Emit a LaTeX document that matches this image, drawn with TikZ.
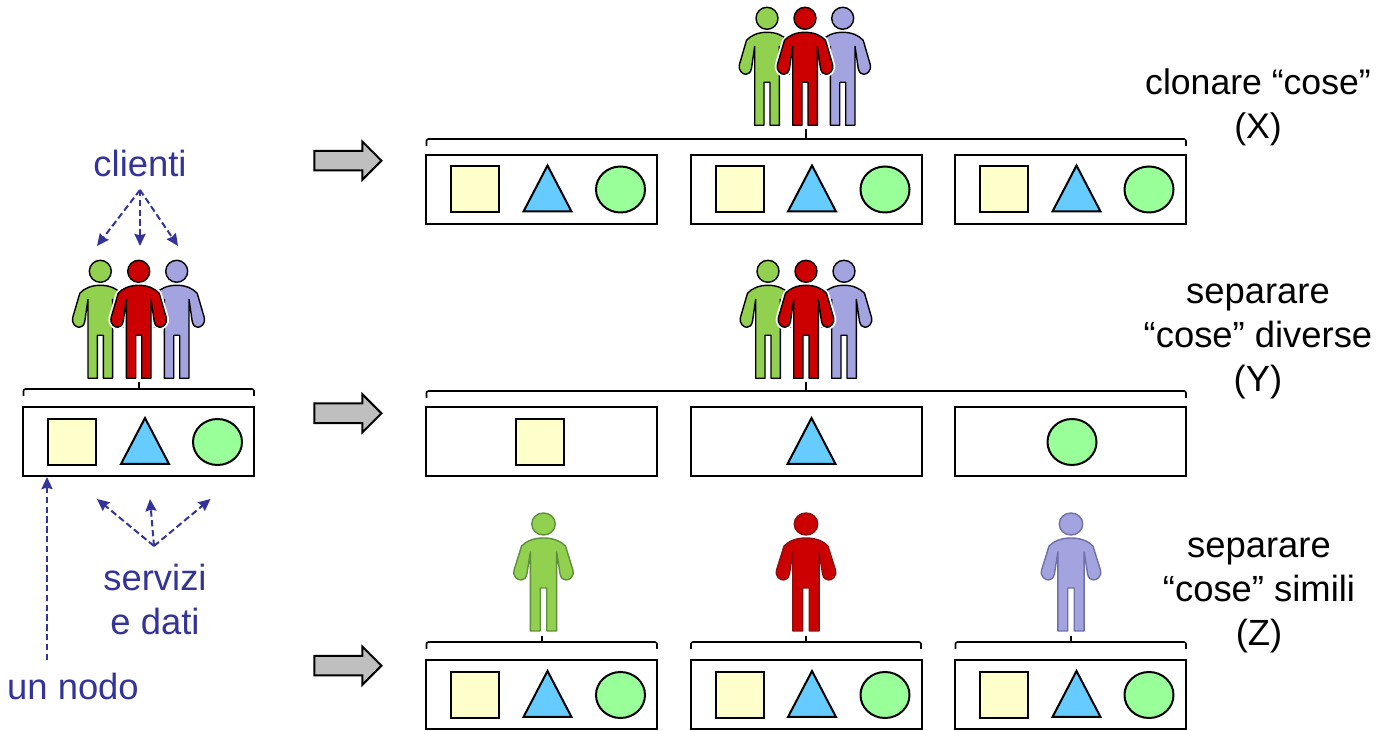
\documentclass[tikz,border=0pt]{standalone}
\usepackage{fontspec}
\setmainfont{Liberation Sans}
\usepackage{xcolor}
\usepackage{tikz}
\usetikzlibrary{shapes.geometric,shapes.arrows,arrows.meta}
\definecolor{personGreen}{HTML}{92D050}
\definecolor{personRed}{HTML}{CC0000}
\definecolor{personBlue}{HTML}{A3A3DF}
\definecolor{squareFill}{HTML}{FFFFCC}
\definecolor{triangleFill}{HTML}{66CCFF}
\definecolor{circleFill}{HTML}{99FF99}
\definecolor{labelBlue}{HTML}{333399}
\definecolor{softGreen}{HTML}{5F8F3A}
\definecolor{softRed}{HTML}{8A1010}
\definecolor{softBlue}{HTML}{7070A8}
\tikzset{nodebox/.style={draw,line width=1pt,minimum width=115.5pt,minimum height=34.5pt,inner sep=0pt}}
\tikzset{sq/.style={draw,line width=1pt,fill=squareFill,minimum width=24pt,minimum height=23pt,inner sep=0pt}}
\tikzset{tri/.style={draw,line width=1pt,fill=triangleFill,isosceles triangle,isosceles triangle stretches,shape border rotate=90,minimum width=24pt,minimum height=23pt,inner sep=0pt,anchor=lower side}}
\tikzset{ell/.style={draw,line width=1pt,fill=circleFill,ellipse,minimum width=24.5pt,minimum height=23pt,inner sep=0pt}}
\tikzset{bigarrow/.style={draw,line width=1pt,fill=black!25,single arrow,minimum height=33.5pt,minimum width=18pt,single arrow head extend=4.6pt,single arrow head indent=0pt,inner xsep=0pt,inner ysep=4.4pt}}
\tikzset{clabel/.style={text=labelBlue,font=\fontsize{18.2}{22}\selectfont,align=center,inner sep=0pt}}
\tikzset{rlabel/.style={font=\fontsize{18.2}{22}\selectfont,align=center,inner sep=0pt}}
\tikzset{dasharrow/.style={->,labelBlue,line width=1pt,dash pattern=on 3.2pt off 1.7pt}}
\tikzset{bracket/.style={line width=0.8pt,rounded corners=1pt}}
\def\personpath{(0,14) .. controls (9,14) and (16,17) .. (20.5,22) -- (27.5,46)
    .. controls (29,53) and (24,56) .. (21,56) .. controls (18,56) and (16.5,54) .. (15.5,50)
    -- (12.3,28) -- (12.3,107) -- (3,107) -- (3,64) -- (-3,64) -- (-3,107) -- (-12.3,107) -- (-12.3,28)
    -- (-15.5,50) .. controls (-16.5,54) and (-18,56) .. (-21,56) .. controls (-24,56) and (-29,53) .. (-27.5,46)
    -- (-20.5,22) .. controls (-16,17) and (-9,14) .. (0,14) -- cycle}
\tikzset{pics/person/.style n args={2}{code={
    \draw[white,line width=2.5pt,line join=round] \personpath;
    \draw[draw=#2,fill=#1,line width=0.7pt,line join=round] \personpath;
    \draw[draw=#2,fill=#1,line width=0.7pt] (0,0) circle [radius=5.5pt];
}}}

\begin{document}
\begin{tikzpicture}[x=0.5pt,y=-0.5pt,>={Stealth[length=6pt,width=5.5pt,inset=0.6pt]}]
    \useasboundingbox (0,0) rectangle (1394,731);

    % left column
    \pic at (100.3,271.3) {person={personGreen}{black}};
    \pic at (176.7,271.3) {person={personBlue}{black}};
    \pic at (138.7,271.3) {person={personRed}{black}};
    \draw [bracket] (23.5,396) -- (23.5,389) -- (254,389) -- (254,396);
    \draw [line width=0.8pt] (139,389) -- (139,382);
    \node[nodebox] (left) at (138.7,442) {};
    \node[sq] (lefts) at (72.3,442) {};
    \node[tri] (leftt) at (145,465) {};
    \node[ell] (lefte) at (217.5,442) {};

    \node[clabel] (clienti) at (140,163) {clienti};
    \coordinate (clientiup) at (140,190);
    \coordinate (cl1) at (97,246);
    \coordinate (cl2) at (140,246);
    \coordinate (cl3) at (178,246);
    \draw [dasharrow] (clientiup) to (cl1);
    \draw [dasharrow] (clientiup) to (cl2);
    \draw [dasharrow] (clientiup) to (cl3);

    \node[clabel] (servizi) at (155,599) {servizi\\e dati};
    \coordinate (servup) at (154,546);
    \coordinate (sv1) at (97,499);
    \coordinate (sv2) at (150,499);
    \coordinate (sv3) at (210.5,499);
    \draw [dasharrow] (servup) to (sv1);
    \draw [dasharrow] (servup) to (sv2);
    \draw [dasharrow] (servup) to (sv3);

    \node[clabel] (unnodo) at (73,686) {un nodo};
    \coordinate (nodofoot) at (47,660);
    \coordinate (nodotip) at (47,477);
    \draw [dasharrow] (nodofoot) to (nodotip);

    % grey arrows
    \node[bigarrow] (arrx) at (343,160.7) {};
    \node[bigarrow] (arry) at (343,413.3) {};
    \node[bigarrow] (arrz) at (343,665.7) {};

    % row X
    \pic at (767,18.3) {person={personGreen}{black}};
    \pic at (842.7,18.3) {person={personBlue}{black}};
    \pic at (805,18.3) {person={personRed}{black}};
    \draw [bracket] (426.5,146) -- (426.5,139) -- (1186,139) -- (1186,146);
    \draw [line width=0.8pt] (806,139) -- (806,129);
    \node[nodebox] (x1) at (541.5,189.5) {};
    \node[nodebox] (x2) at (806,189.5) {};
    \node[nodebox] (x3) at (1070.5,189.5) {};
    \node[sq] (x1s) at (475,189.5) {};
    \node[tri] (x1t) at (547.5,212.5) {};
    \node[ell] (x1e) at (620.5,189.5) {};
    \node[sq] (x2s) at (739.5,189.5) {};
    \node[tri] (x2t) at (812,212.5) {};
    \node[ell] (x2e) at (885,189.5) {};
    \node[sq] (x3s) at (1004,189.5) {};
    \node[tri] (x3t) at (1076.5,212.5) {};
    \node[ell] (x3e) at (1149,189.5) {};
    \node[rlabel,font=\fontsize{17.8}{22}\selectfont] (xlabel) at (1258,107.5) {clonare “cose”\\(X)};

    % row Y
    \pic at (768,271.3) {person={personGreen}{black}};
    \pic at (844,271.3) {person={personBlue}{black}};
    \pic at (806,271.3) {person={personRed}{black}};
    \draw [bracket] (426.5,398) -- (426.5,391) -- (1186,391) -- (1186,398);
    \draw [line width=0.8pt] (806,391) -- (806,382);
    \node[nodebox] (y1) at (541.5,442) {};
    \node[nodebox] (y2) at (806,442) {};
    \node[nodebox] (y3) at (1070.5,442) {};
    \node[sq] (y1s) at (540,442) {};
    \node[tri] (y2t) at (811.5,465) {};
    \node[ell] (y3e) at (1072,442) {};
    \node[rlabel] (ylabel) at (1258,341) {separare\\“cose” diverse\\(Y)};

    % row Z
    \pic[xscale=1.07] at (543.5,524) {person={personGreen}{softGreen}};
    \pic[xscale=1.07] at (806,524) {person={personRed}{softRed}};
    \pic[xscale=1.07] at (1071,524) {person={personBlue}{softBlue}};
    \draw [bracket] (426.5,649) -- (426.5,642) -- (657,642) -- (657,649);
    \draw [bracket] (691,649) -- (691,642) -- (921,642) -- (921,649);
    \draw [bracket] (955.5,649) -- (955.5,642) -- (1186,642) -- (1186,649);
    \draw [line width=1pt] (541.7,642) -- (541.7,636);
    \draw [line width=1pt] (806,642) -- (806,636);
    \draw [line width=1pt] (1071,642) -- (1071,636);
    \node[nodebox] (z1) at (541.5,695) {};
    \node[nodebox] (z2) at (806,695) {};
    \node[nodebox] (z3) at (1070.5,695) {};
    \node[sq] (z1s) at (475,695) {};
    \node[tri] (z1t) at (547.5,718) {};
    \node[ell] (z1e) at (620.5,695) {};
    \node[sq] (z2s) at (739.5,695) {};
    \node[tri] (z2t) at (812,718) {};
    \node[ell] (z2e) at (885,695) {};
    \node[sq] (z3s) at (1004,695) {};
    \node[tri] (z3t) at (1076.5,718) {};
    \node[ell] (z3e) at (1149,695) {};
    \node[rlabel] (zlabel) at (1259,595) {separare\\“cose” simili\\(Z)};
\end{tikzpicture}
\end{document}
